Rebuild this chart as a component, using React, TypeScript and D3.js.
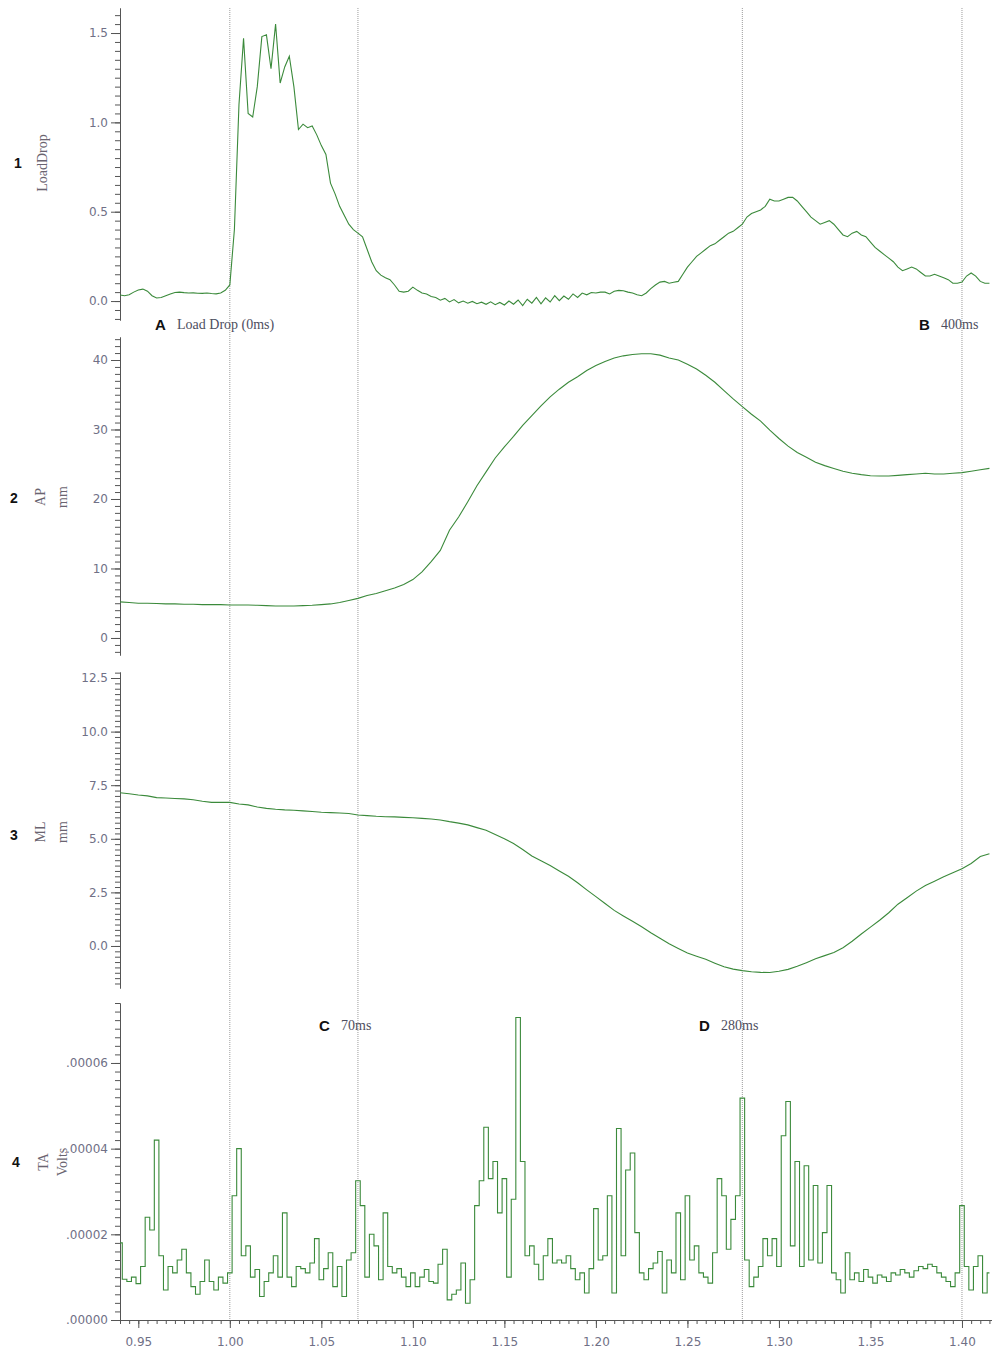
import React, { useEffect, useRef } from "react";
import * as d3 from "d3";

// sampling of the traces (seconds)
const startTime = 0.94;
const fastStep = 0.0025; // LoadDrop and TA
const slowStep = 0.005; // AP and ML

// LoadDrop trace
const loadDrop = [
  0.034, 0.03, 0.035, 0.05, 0.062, 0.067, 0.055, 0.03, 0.017, 0.02,
  0.03, 0.04, 0.048, 0.05, 0.047, 0.045, 0.046, 0.044, 0.043, 0.045,
  0.042, 0.04, 0.045, 0.06, 0.09, 0.4, 1.1, 1.47, 1.05, 1.03,
  1.2, 1.48, 1.49, 1.3, 1.55, 1.22, 1.31, 1.37, 1.2, 0.96,
  0.99, 0.97, 0.98, 0.93, 0.87, 0.82, 0.66, 0.6, 0.53, 0.48,
  0.43, 0.4, 0.38, 0.36, 0.29, 0.22, 0.17, 0.145, 0.13, 0.12,
  0.09, 0.055, 0.05, 0.055, 0.078, 0.06, 0.045, 0.04, 0.025, 0.02,
  0.005, 0.015, -0.005, 0.008, -0.01, 0.0, -0.012, -0.002, -0.015, -0.006,
  -0.018, -0.004, -0.02, -0.008, -0.022, 0.0, -0.018, 0.006, -0.025, 0.01,
  -0.012, 0.02, -0.015, 0.018, -0.005, 0.03, 0.002, 0.028, 0.01, 0.04,
  0.02, 0.045, 0.035, 0.048, 0.045, 0.05, 0.05, 0.04, 0.055, 0.06,
  0.058, 0.05, 0.045, 0.035, 0.03, 0.045, 0.07, 0.09, 0.106, 0.11,
  0.1, 0.105, 0.11, 0.15, 0.19, 0.22, 0.25, 0.27, 0.29, 0.31,
  0.32, 0.34, 0.36, 0.38, 0.39, 0.41, 0.43, 0.47, 0.49, 0.5,
  0.51, 0.53, 0.57, 0.56, 0.56, 0.57, 0.58, 0.58, 0.56, 0.53,
  0.5, 0.47, 0.45, 0.43, 0.44, 0.45, 0.43, 0.4, 0.37, 0.36,
  0.38, 0.39, 0.37, 0.36, 0.33, 0.3, 0.28, 0.26, 0.24, 0.22,
  0.19, 0.17, 0.18, 0.19, 0.18, 0.16, 0.14, 0.14, 0.15, 0.14,
  0.13, 0.12, 0.1, 0.1, 0.106, 0.14, 0.157, 0.14, 0.11, 0.1, 0.1,
];

// AP (mm)
const apValues = [
  5.2, 5.1, 5.0, 5.0, 4.95, 4.9, 4.9, 4.85, 4.85, 4.8,
  4.8, 4.8, 4.75, 4.75, 4.75, 4.7, 4.65, 4.6, 4.6, 4.6,
  4.65, 4.7, 4.8, 4.9, 5.1, 5.4, 5.7, 6.1, 6.4, 6.8,
  7.2, 7.7, 8.4, 9.5, 11.0, 12.6, 15.5, 17.4, 19.6, 21.9,
  23.9, 25.9, 27.5, 29.0, 30.6, 32.0, 33.4, 34.7, 35.8, 36.8,
  37.6, 38.5, 39.2, 39.8, 40.3, 40.6, 40.8, 40.9, 40.9, 40.7,
  40.3, 40.0, 39.4, 38.7, 37.8, 36.8, 35.6, 34.4, 33.3, 32.2,
  31.2, 29.9, 28.7, 27.6, 26.7, 26.0, 25.3, 24.8, 24.4, 24.0,
  23.7, 23.5, 23.35, 23.3, 23.3, 23.4, 23.5, 23.6, 23.7, 23.6,
  23.6, 23.7, 23.8, 24.0, 24.2, 24.4,
];

// ML (mm)
const mlValues = [
  7.15, 7.1, 7.04, 7.0, 6.92, 6.9, 6.88, 6.86, 6.82, 6.75,
  6.7, 6.7, 6.7, 6.62, 6.58, 6.48, 6.42, 6.38, 6.35, 6.33,
  6.3, 6.27, 6.24, 6.22, 6.2, 6.18, 6.11, 6.08, 6.05, 6.03,
  6.02, 6.0, 5.98, 5.95, 5.92, 5.88, 5.8, 5.73, 5.65, 5.52,
  5.4, 5.2, 5.0, 4.78, 4.5, 4.2, 3.98, 3.75, 3.5, 3.25,
  2.95, 2.62, 2.3, 1.98, 1.66, 1.4, 1.15, 0.9, 0.62, 0.36,
  0.1, -0.12, -0.33, -0.48, -0.62, -0.8, -0.97, -1.08, -1.15, -1.2,
  -1.23, -1.24, -1.18, -1.09, -0.95, -0.78, -0.6, -0.45, -0.3, -0.08,
  0.22, 0.56, 0.88, 1.2, 1.55, 1.95, 2.25, 2.56, 2.82, 3.02,
  3.23, 3.42, 3.6, 3.85, 4.17, 4.3,
];

// TA EMG, in units of 1e-5 V
const taValues = [
  1.8, 0.95, 0.9, 1.0, 0.85, 1.25, 2.4, 2.1, 4.2, 1.5,
  0.7, 1.25, 1.1, 1.4, 1.65, 1.1, 0.78, 0.6, 0.9, 1.4,
  0.9, 0.7, 1.0, 0.86, 1.1, 2.9, 4.0, 1.5, 1.73, 1.0,
  1.18, 0.55, 0.9, 1.1, 1.5, 1.0, 2.5, 1.0, 0.78, 1.25,
  1.2, 1.1, 1.33, 1.9, 0.94, 1.2, 1.57, 0.78, 1.25, 0.55,
  1.4, 1.57, 3.25, 2.67, 1.0, 2.0, 1.73, 0.94, 2.5, 1.25,
  1.1, 1.2, 1.0, 0.78, 1.1, 0.78, 1.0, 1.18, 0.9, 0.86,
  1.3, 1.65, 0.47, 0.6, 0.7, 1.33, 0.39, 0.94, 2.67, 3.25,
  4.5, 3.3, 3.7, 2.5, 3.3, 1.0, 2.82, 7.06, 3.7, 1.5,
  1.73, 1.3, 0.94, 1.5, 1.9, 1.33, 1.4, 1.33, 1.5, 1.2,
  0.94, 1.1, 0.63, 1.2, 2.6, 1.4, 1.5, 2.9, 0.63, 4.47,
  1.5, 3.5, 3.9, 2.04, 1.1, 0.94, 1.2, 1.33, 1.6, 0.63,
  1.4, 1.1, 2.5, 0.94, 2.9, 1.4, 1.73, 1.1, 1.0, 0.86,
  1.57, 3.3, 2.9, 1.65, 2.35, 2.9, 5.18, 1.4, 0.78, 1.0,
  1.25, 1.9, 1.5, 1.9, 1.25, 4.3, 5.1, 1.73, 3.7, 1.25,
  3.6, 1.4, 3.14, 1.33, 2.04, 3.14, 1.1, 0.94, 0.63, 1.57,
  0.94, 1.1, 0.9, 1.18, 1.0, 0.86, 1.05, 1.0, 0.9, 1.1,
  1.05, 1.18, 1.1, 1.0, 1.15, 1.25, 1.2, 1.3, 1.25, 1.1,
  1.0, 0.9, 0.78, 1.1, 2.67, 1.25, 0.7, 1.25, 1.5, 0.63, 1.1,
];

// markers and ticks
const markerTimes = [1.0, 1.07, 1.28, 1.4];
const timeTicks = [0.95, 1.0, 1.05, 1.1, 1.15, 1.2, 1.25, 1.3, 1.35, 1.4];
const loadTicks = [0, 0.5, 1.0, 1.5];
const apTicks = [0, 10, 20, 30, 40];
const mlTicks = [0, 2.5, 5, 7.5, 10, 12.5];
const taTicks = [0, 2, 4, 6];
const taTickLabels = [".00000", ".00002", ".00004", ".00006"];

const W = 992;
const H = 1350;
const axisX = 120;
const xAxisY = 1320;
const green = "#3b8a3b";
const tickColor = "#707086";
const textColor = "#4e4e5e";

const range = (lo: number, hi: number, step: number) =>
  d3.range(Math.ceil(lo / step - 1e-6), Math.floor(hi / step + 1e-6) + 1).map((k) => k * step);

export default function App() {
  const ref = useRef<SVGSVGElement>(null);

  useEffect(() => {
    const svg = d3.select(ref.current);
    svg.selectAll("*").remove();

    const x = d3.scaleLinear().domain([0.94, 1.4164]).range([axisX, W]);

    const panels = [
      { values: loadDrop, step: fastStep, dom: [-0.106, 1.64], rng: [320, 8], ticks: loadTicks, minor: 0.05, fmt: d3.format(".1f"), curve: d3.curveLinear },
      { values: apValues, step: slowStep, dom: [-2.45, 43.31], rng: [655, 337], ticks: apTicks, minor: 1, fmt: d3.format("d"), curve: d3.curveLinear },
      { values: mlValues, step: slowStep, dom: [-1.96, 12.78], rng: [988, 672], ticks: mlTicks, minor: 0.25, fmt: d3.format(".1f"), curve: d3.curveLinear },
      { values: taValues, step: fastStep, dom: [0, 7.4], rng: [xAxisY, 1003], ticks: taTicks, minor: 0.2, fmt: (d: number) => taTickLabels[taTicks.indexOf(d)], curve: d3.curveStep },
    ];

    // marker lines
    svg
      .append("g")
      .selectAll("line")
      .data(markerTimes)
      .join("line")
      .attr("x1", (d) => x(d))
      .attr("x2", (d) => x(d))
      .attr("y1", 8)
      .attr("y2", xAxisY)
      .attr("stroke", "#9c9c9c")
      .attr("stroke-dasharray", "1,1");

    const styleAxis = (g: any) => {
      g.attr("font-family", "DejaVu Sans").attr("font-size", 12);
      g.selectAll("text").attr("fill", tickColor);
      g.selectAll("line").attr("stroke", "#555");
      g.select(".domain").attr("stroke", "#555");
    };

    panels.forEach((p) => {
      const y = d3.scaleLinear().domain(p.dom).range(p.rng);

      // minor ticks
      svg
        .append("g")
        .attr("transform", `translate(${axisX},0)`)
        .call(d3.axisLeft(y).tickValues(range(p.dom[0], p.dom[1], p.minor)).tickSize(5).tickSizeOuter(0).tickFormat(() => ""))
        .call(styleAxis);

      svg
        .append("g")
        .attr("transform", `translate(${axisX},0)`)
        .call(d3.axisLeft(y).tickValues(p.ticks).tickSize(9).tickPadding(3).tickSizeOuter(0).tickFormat(p.fmt as any))
        .call(styleAxis);

      const line = d3
        .line<number>()
        .x((_, i) => x(startTime + i * p.step))
        .y((d) => y(d))
        .curve(p.curve);

      svg
        .append("path")
        .datum(p.values)
        .attr("fill", "none")
        .attr("stroke", green)
        .attr("stroke-width", 1.1)
        .attr("d", line);
    });

    // x axis
    svg
      .append("g")
      .attr("transform", `translate(0,${xAxisY})`)
      .call(d3.axisBottom(x).tickValues(range(0.94, 1.4164, 0.005)).tickSize(4).tickSizeOuter(0).tickFormat(() => ""))
      .call(styleAxis);
    svg
      .append("g")
      .attr("transform", `translate(0,${xAxisY})`)
      .call(d3.axisBottom(x).tickValues(timeTicks).tickSize(8).tickPadding(9).tickSizeOuter(0).tickFormat(d3.format(".2f") as any))
      .call(styleAxis);

    // panel numbers
    const numbers = [
      { t: "1", x: 14, y: 168 },
      { t: "2", x: 10, y: 503 },
      { t: "3", x: 10, y: 840 },
      { t: "4", x: 12, y: 1167 },
    ];
    svg
      .append("g")
      .selectAll("text")
      .data(numbers)
      .join("text")
      .attr("x", (d) => d.x)
      .attr("y", (d) => d.y)
      .attr("font-family", "Liberation Sans")
      .attr("font-weight", "bold")
      .attr("font-size", 14)
      .attr("fill", "#111")
      .text((d) => d.t);

    // rotated channel labels
    const labels = [
      { t: "LoadDrop", x: 47, y: 163 },
      { t: "AP", x: 45, y: 497 },
      { t: "mm", x: 67, y: 497 },
      { t: "ML", x: 45, y: 832 },
      { t: "mm", x: 67, y: 832 },
      { t: "TA", x: 48, y: 1162 },
      { t: "Volts", x: 67, y: 1162 },
    ];
    svg
      .append("g")
      .selectAll("text")
      .data(labels)
      .join("text")
      .attr("transform", (d) => `translate(${d.x},${d.y}) rotate(-90)`)
      .attr("text-anchor", "middle")
      .attr("font-family", "Liberation Serif")
      .attr("font-size", 14)
      .attr("fill", "#6a6470")
      .text((d) => d.t);

    // event annotations
    const notes = [
      { k: "A", t: "Load Drop (0ms)", x: 155, y: 330 },
      { k: "B", t: "400ms", x: 919, y: 330 },
      { k: "C", t: "70ms", x: 319, y: 1031 },
      { k: "D", t: "280ms", x: 699, y: 1031 },
    ];
    const ng = svg.append("g").selectAll("g").data(notes).join("g");
    ng.append("text")
      .attr("x", (d) => d.x)
      .attr("y", (d) => d.y)
      .attr("font-family", "Liberation Sans")
      .attr("font-weight", "bold")
      .attr("font-size", 15)
      .attr("fill", "#111")
      .text((d) => d.k);
    ng.append("text")
      .attr("x", (d) => d.x + 22)
      .attr("y", (d) => d.y - 1)
      .attr("font-family", "Liberation Serif")
      .attr("font-size", 14)
      .attr("fill", textColor)
      .text((d) => d.t);
  }, []);

  return (
    <div style={{ position: "absolute", left: 0, top: 0 }}>
      <svg ref={ref} width={W} height={H} style={{ display: "block", background: "#fff" }} />
    </div>
  );
}
